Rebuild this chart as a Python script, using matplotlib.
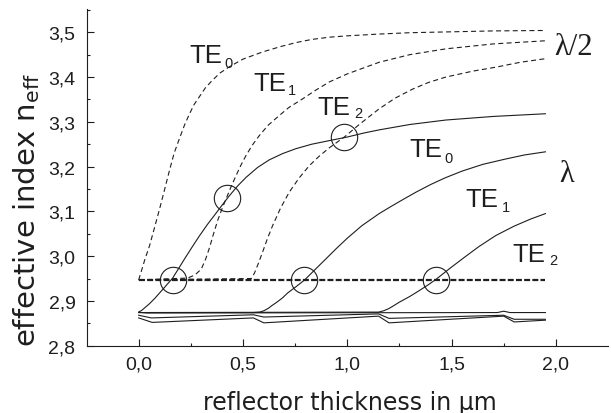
import matplotlib
matplotlib.use("Agg")
import matplotlib.pyplot as plt
from matplotlib.ticker import FixedLocator

plt.rcParams['lines.scale_dashes'] = False

# ---------------- data ----------------
# lambda/2 reflector (dashed)
half_te0_x = [0, 0.01, 0.03, 0.052, 0.075, 0.1, 0.125, 0.148, 0.17, 0.195, 0.22, 0.243, 0.265, 0.291,
              0.32, 0.354, 0.39, 0.435, 0.5, 0.594, 0.68, 0.755, 0.83, 0.914, 1.0, 1.153, 1.3, 1.5, 1.7, 1.95]
half_te0_y = [2.947, 2.962, 2.993, 3.023, 3.062, 3.105, 3.150, 3.192, 3.230, 3.262, 3.293, 3.317, 3.338, 3.356,
              3.376, 3.393, 3.409, 3.423, 3.440, 3.456, 3.468, 3.477, 3.484, 3.489, 3.492, 3.496, 3.499, 3.501, 3.503, 3.504]

half_te1_x = [0, 0.235, 0.27, 0.3, 0.32, 0.339, 0.359, 0.379, 0.399, 0.419, 0.443, 0.467, 0.49, 0.515,
              0.545, 0.578, 0.62, 0.674, 0.72, 0.785, 0.85, 0.914, 1.0, 1.153, 1.3, 1.473, 1.7, 1.95]
half_te1_y = [2.947, 2.951, 2.958, 2.971, 2.992, 3.018, 3.050, 3.080, 3.105, 3.128, 3.155, 3.180, 3.203, 3.225,
              3.248, 3.269, 3.292, 3.314, 3.332, 3.351, 3.371, 3.389, 3.407, 3.433, 3.450, 3.463, 3.474, 3.481]

half_te2_x = [0, 0.54, 0.555, 0.574, 0.594, 0.618, 0.642, 0.68, 0.722, 0.77, 0.818, 0.865, 0.914, 0.986,
              1.06, 1.153, 1.23, 1.313, 1.39, 1.473, 1.6, 1.712, 1.83, 1.95]
half_te2_y = [2.947, 2.950, 2.962, 2.984, 3.009, 3.040, 3.068, 3.107, 3.143, 3.175, 3.202, 3.223, 3.242, 3.266,
              3.295, 3.329, 3.353, 3.373, 3.388, 3.400, 3.413, 3.422, 3.433, 3.441]

cladding_x = [0, 1.95]
cladding_y = [2.947, 2.947]

# lambda reflector (solid)
full_te0_x = [0, 0.015, 0.03, 0.05, 0.076, 0.116, 0.163, 0.195, 0.227, 0.26, 0.291, 0.33, 0.371, 0.405, 0.435,
              0.475, 0.515, 0.57, 0.626, 0.69, 0.754, 0.83, 0.914, 1.0, 1.08, 1.153, 1.3, 1.473, 1.7, 1.95]
full_te0_y = [2.875, 2.879, 2.885, 2.893, 2.905, 2.926, 2.951, 2.975, 2.999, 3.023, 3.045, 3.071, 3.096, 3.117, 3.135,
              3.157, 3.176, 3.198, 3.215, 3.229, 3.240, 3.250, 3.258, 3.266, 3.275, 3.282, 3.294, 3.304, 3.312, 3.318]

full_te1_x = [0, 0.55, 0.58, 0.6, 0.62, 0.64, 0.665, 0.69, 0.715, 0.755, 0.796, 0.85, 0.9, 0.95, 1.0, 1.07,
              1.153, 1.21, 1.273, 1.33, 1.4, 1.47, 1.551, 1.65, 1.76, 1.85, 1.95]
full_te1_y = [2.874, 2.874, 2.875, 2.878, 2.883, 2.890, 2.898, 2.907, 2.918, 2.932, 2.947, 2.972, 2.995, 3.018, 3.040, 3.068,
              3.095, 3.111, 3.128, 3.143, 3.160, 3.175, 3.190, 3.205, 3.217, 3.226, 3.233]

full_te2_x = [0, 1.15, 1.175, 1.2, 1.225, 1.249, 1.3, 1.345, 1.385, 1.425, 1.49, 1.552, 1.63, 1.712, 1.8, 1.88, 1.95]
full_te2_y = [2.874, 2.875, 2.878, 2.883, 2.890, 2.897, 2.910, 2.923, 2.935, 2.948, 2.972, 2.994, 3.021, 3.046, 3.067, 3.083, 3.095]

# lower (zig-zag) modes
low_a_x = [0, 0.04, 1.72, 1.75, 1.78, 1.95]
low_a_y = [2.8745, 2.873, 2.874, 2.877, 2.874, 2.874]
low_b_x = [0, 0.06, 0.55, 0.6, 1.15, 1.2, 1.75, 1.8, 1.95]
low_b_y = [2.868, 2.862, 2.869, 2.864, 2.871, 2.861, 2.868, 2.859, 2.859]
low_c_x = [0, 0.065, 0.55, 0.6, 1.15, 1.2, 1.75, 1.8, 1.95]
low_c_y = [2.862, 2.852, 2.862, 2.851, 2.866, 2.851, 2.866, 2.853, 2.857]

# crossing markers
circle_x = [0.163, 0.424, 0.986, 0.794, 1.426]
circle_y = [2.947, 3.129, 3.266, 2.947, 2.947]

xticks = [0.0, 0.5, 1.0, 1.5, 2.0]
xtick_labels = ['0,0', '0,5', '1,0', '1,5', '2,0']
yticks = [2.8, 2.9, 3.0, 3.1, 3.2, 3.3, 3.4, 3.5]
ytick_labels = ['2,8', '2,9', '3,0', '3,1', '3,2', '3,3', '3,4', '3,5']

# ---------------- plot ----------------
col = '#1e1e1e'
fig = plt.figure(figsize=(6.11, 4.14), dpi=100)
ax = fig.add_axes([0.1416, 0.1626, 0.8535, 0.8133])

dash_thin = (3.6, 2.4)
for xs, ys in [(half_te0_x, half_te0_y), (half_te1_x, half_te1_y), (half_te2_x, half_te2_y)]:
    ax.plot(xs, ys, color=col, lw=0.8, dashes=dash_thin)
ax.plot(cladding_x, cladding_y, color=col, lw=1.6, dashes=(4.3, 1.6))

for xs, ys in [(full_te0_x, full_te0_y), (full_te1_x, full_te1_y), (full_te2_x, full_te2_y),
               (low_a_x, low_a_y), (low_b_x, low_b_y), (low_c_x, low_c_y)]:
    ax.plot(xs, ys, color=col, lw=0.8)

ax.plot(circle_x, circle_y, linestyle='none', marker='o', markersize=19,
        markerfacecolor='none', markeredgecolor=col, markeredgewidth=0.8)

ax.set_xlim(-0.25, 2.25)
ax.set_ylim(2.8, 3.552)
for s in ['top', 'right']:
    ax.spines[s].set_visible(False)
for s in ['left', 'bottom']:
    ax.spines[s].set_linewidth(0.8)
    ax.spines[s].set_color(col)

ax.xaxis.set_major_locator(FixedLocator(xticks))
ax.set_xticklabels(xtick_labels)
ax.xaxis.set_minor_locator(FixedLocator([0.25, 0.75, 1.25, 1.75]))
ax.yaxis.set_major_locator(FixedLocator(yticks))
ax.set_yticklabels(ytick_labels)
ax.yaxis.set_minor_locator(FixedLocator([2.85, 2.95, 3.05, 3.15, 3.25, 3.35, 3.45, 3.55]))

ax.tick_params(which='both', direction='in', color=col, width=0.8)
ax.tick_params(which='major', length=5)
ax.tick_params(which='minor', length=2.5)
ax.tick_params(axis='x', which='major', pad=7, labelsize=14, labelcolor=col)
ax.tick_params(axis='y', which='major', pad=8, labelsize=14, labelcolor=col)
for lab in ax.get_xticklabels() + ax.get_yticklabels():
    lab.set_fontfamily('Liberation Sans')

ax.set_xlabel('reflector thickness in µm', fontsize=17, color=col, va='baseline',
              family='DejaVu Sans')
ax.xaxis.set_label_coords(0.505, -0.188)
ax.set_ylabel(r'effective index n$_\mathregular{eff}$', fontsize=21, color=col,
              va='baseline', family='DejaVu Sans')
ax.yaxis.set_label_coords(-0.0988, 0.406)

# mode labels
te_fs = 18.5
sub_fs = 10.5
mode_labels = [
    (0.243, 3.433, '0', 0.411, 3.422),
    (0.550, 3.372, '1', 0.717, 3.362),
    (0.856, 3.318, '2', 1.034, 3.311),
    (1.297, 3.224, '0', 1.465, 3.210),
    (1.565, 3.112, '1', 1.742, 3.101),
    (1.790, 2.989, '2', 1.967, 2.982),
]
for tx, ty, sub, sx, sy in mode_labels:
    ax.text(tx, ty, 'TE', fontsize=te_fs, color=col, family='Liberation Sans',
            ha='left', va='baseline')
    ax.text(sx, sy, sub, fontsize=sub_fs, color=col, family='Liberation Sans',
            ha='left', va='baseline')

ax.text(1.991, 3.452, 'λ/2', fontsize=22, color=col, family='Liberation Serif',
        ha='left', va='baseline', clip_on=False)
ax.text(2.015, 3.168, 'λ', fontsize=22, color=col, family='Liberation Serif',
        ha='left', va='baseline', clip_on=False)

fig.savefig('out.png', dpi=100)
